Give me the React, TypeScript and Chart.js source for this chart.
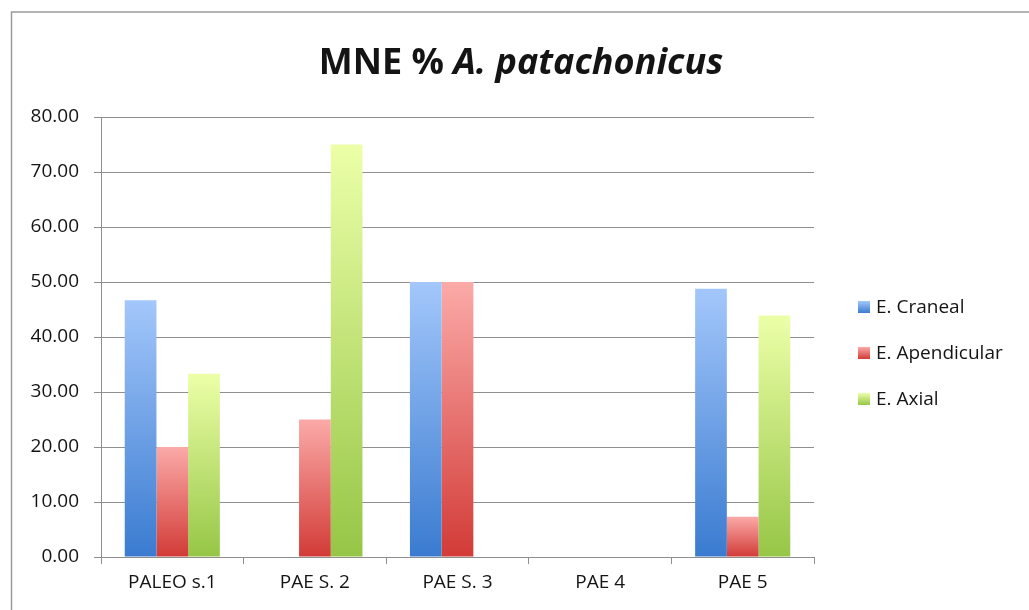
import React, { useEffect, useRef } from 'react';
import { Chart, registerables } from 'chart.js';

Chart.register(...registerables);

const categories = ['PALEO s.1', 'PAE S. 2', 'PAE S. 3', 'PAE 4', 'PAE 5'];
const seriesNames = ['E. Craneal', 'E. Apendicular', 'E. Axial'];
const craneal = [46.67, 0, 50, 0, 48.78];
const apendicular = [20, 25, 50, 0, 7.32];
const axial = [33.33, 75, 0, 0, 43.9];
const yMin = 0;
const yMax = 80;
const yStep = 10;
const titleMain = 'MNE % ';
const titleItalic = 'A. patachonicus';

const FONT = "'Open Sans', 'Noto Sans', sans-serif";
const TEXT = '#141414';
const GRID = '#8f8f8f';
const gradients: [string, string][] = [
  ['#a3c7fb', '#3a7bd0'],
  ['#fbaaa8', '#d23b37'],
  ['#ecffa8', '#96c646'],
];

function barGradient(i: number) {
  return (c: any) => {
    const chart = c.chart;
    const ys = chart.scales && chart.scales.y;
    if (!ys || !chart.chartArea || c.raw === undefined) return gradients[i][1];
    const top = ys.getPixelForValue(c.raw);
    const base = ys.getPixelForValue(0);
    if (!isFinite(top) || !isFinite(base) || Math.abs(base - top) < 0.5) return gradients[i][1];
    const g = chart.ctx.createLinearGradient(0, top, 0, base);
    g.addColorStop(0, gradients[i][0]);
    g.addColorStop(1, gradients[i][1]);
    return g;
  };
}

const decorations = {
  id: 'decorations',
  afterDraw(chart: any) {
    const ctx = chart.ctx;
    ctx.save();
    // outer frame
    ctx.strokeStyle = '#9a9a9a';
    ctx.lineWidth = 1.5;
    ctx.beginPath();
    ctx.moveTo(1029, 12);
    ctx.lineTo(11.5, 12);
    ctx.lineTo(11.5, 610);
    ctx.stroke();

    // title
    ctx.fillStyle = TEXT;
    ctx.textBaseline = 'alphabetic';
    ctx.font = `bold 36px ${FONT}`;
    const w1 = ctx.measureText(titleMain).width;
    ctx.font = `italic bold 36px ${FONT}`;
    const w2 = ctx.measureText(titleItalic).width;
    const x0 = 521 - (w1 + w2) / 2;
    ctx.font = `bold 36px ${FONT}`;
    ctx.textAlign = 'left';
    ctx.fillText(titleMain, x0, 74);
    ctx.font = `italic bold 36px ${FONT}`;
    ctx.fillText(titleItalic, x0 + w1, 74);

    // legend
    const ys = [307, 353, 399];
    chart.data.datasets.forEach((ds: any, i: number) => {
      const cy = ys[i];
      const g = ctx.createLinearGradient(0, cy - 6, 0, cy + 6);
      g.addColorStop(0, gradients[i][0]);
      g.addColorStop(1, gradients[i][1]);
      ctx.fillStyle = g;
      ctx.fillRect(858, cy - 6, 12, 12);
      ctx.fillStyle = TEXT;
      ctx.font = `19px ${FONT}`;
      ctx.textBaseline = 'middle';
      ctx.fillText(ds.label, 876, cy + 1);
    });
    ctx.restore();
  },
};

export default function App() {
  const ref = useRef<HTMLCanvasElement | null>(null);
  useEffect(() => {
    if (!ref.current) return;
    const series = [craneal, apendicular, axial];
    const chart = new Chart(ref.current, {
      type: 'bar',
      data: {
        labels: categories,
        datasets: series.map((d, i) => ({
          label: seriesNames[i],
          data: d,
          backgroundColor: barGradient(i),
          borderWidth: 0,
          categoryPercentage: 0.667,
          barPercentage: 1.0,
        })),
      },
      options: {
        responsive: false,
        animation: false,
        events: [],
        layout: { padding: { top: 117, right: 215, bottom: 0, left: 0 } },
        plugins: {
          legend: { display: false },
          title: { display: false },
          tooltip: { enabled: false },
        },
        scales: {
          x: {
            grid: {
              display: true,
              drawOnChartArea: false,
              drawTicks: true,
              tickLength: 7,
              color: GRID,
              offset: true,
            },
            border: { display: true, color: GRID, width: 1 },
            ticks: { color: TEXT, font: { family: FONT, size: 19 }, padding: 7 },
            afterFit: (s: any) => {
              s.height = 53;
            },
          },
          y: {
            min: yMin,
            max: yMax,
            grid: { color: GRID, tickLength: 7, lineWidth: 1 },
            border: { display: true, color: GRID, width: 1 },
            ticks: {
              stepSize: yStep,
              color: TEXT,
              font: { family: FONT, size: 19 },
              padding: 15,
              callback: (v: any) => Number(v).toFixed(2),
            },
            afterFit: (s: any) => {
              s.width = 101;
            },
          },
        },
      },
      plugins: [decorations],
    });
    return () => chart.destroy();
  }, []);
  return (
    <div style={{ position: 'fixed', left: 0, top: 0, width: 1029, height: 610, background: '#fff' }}>
      <canvas ref={ref} width={1029} height={610} />
    </div>
  );
}
